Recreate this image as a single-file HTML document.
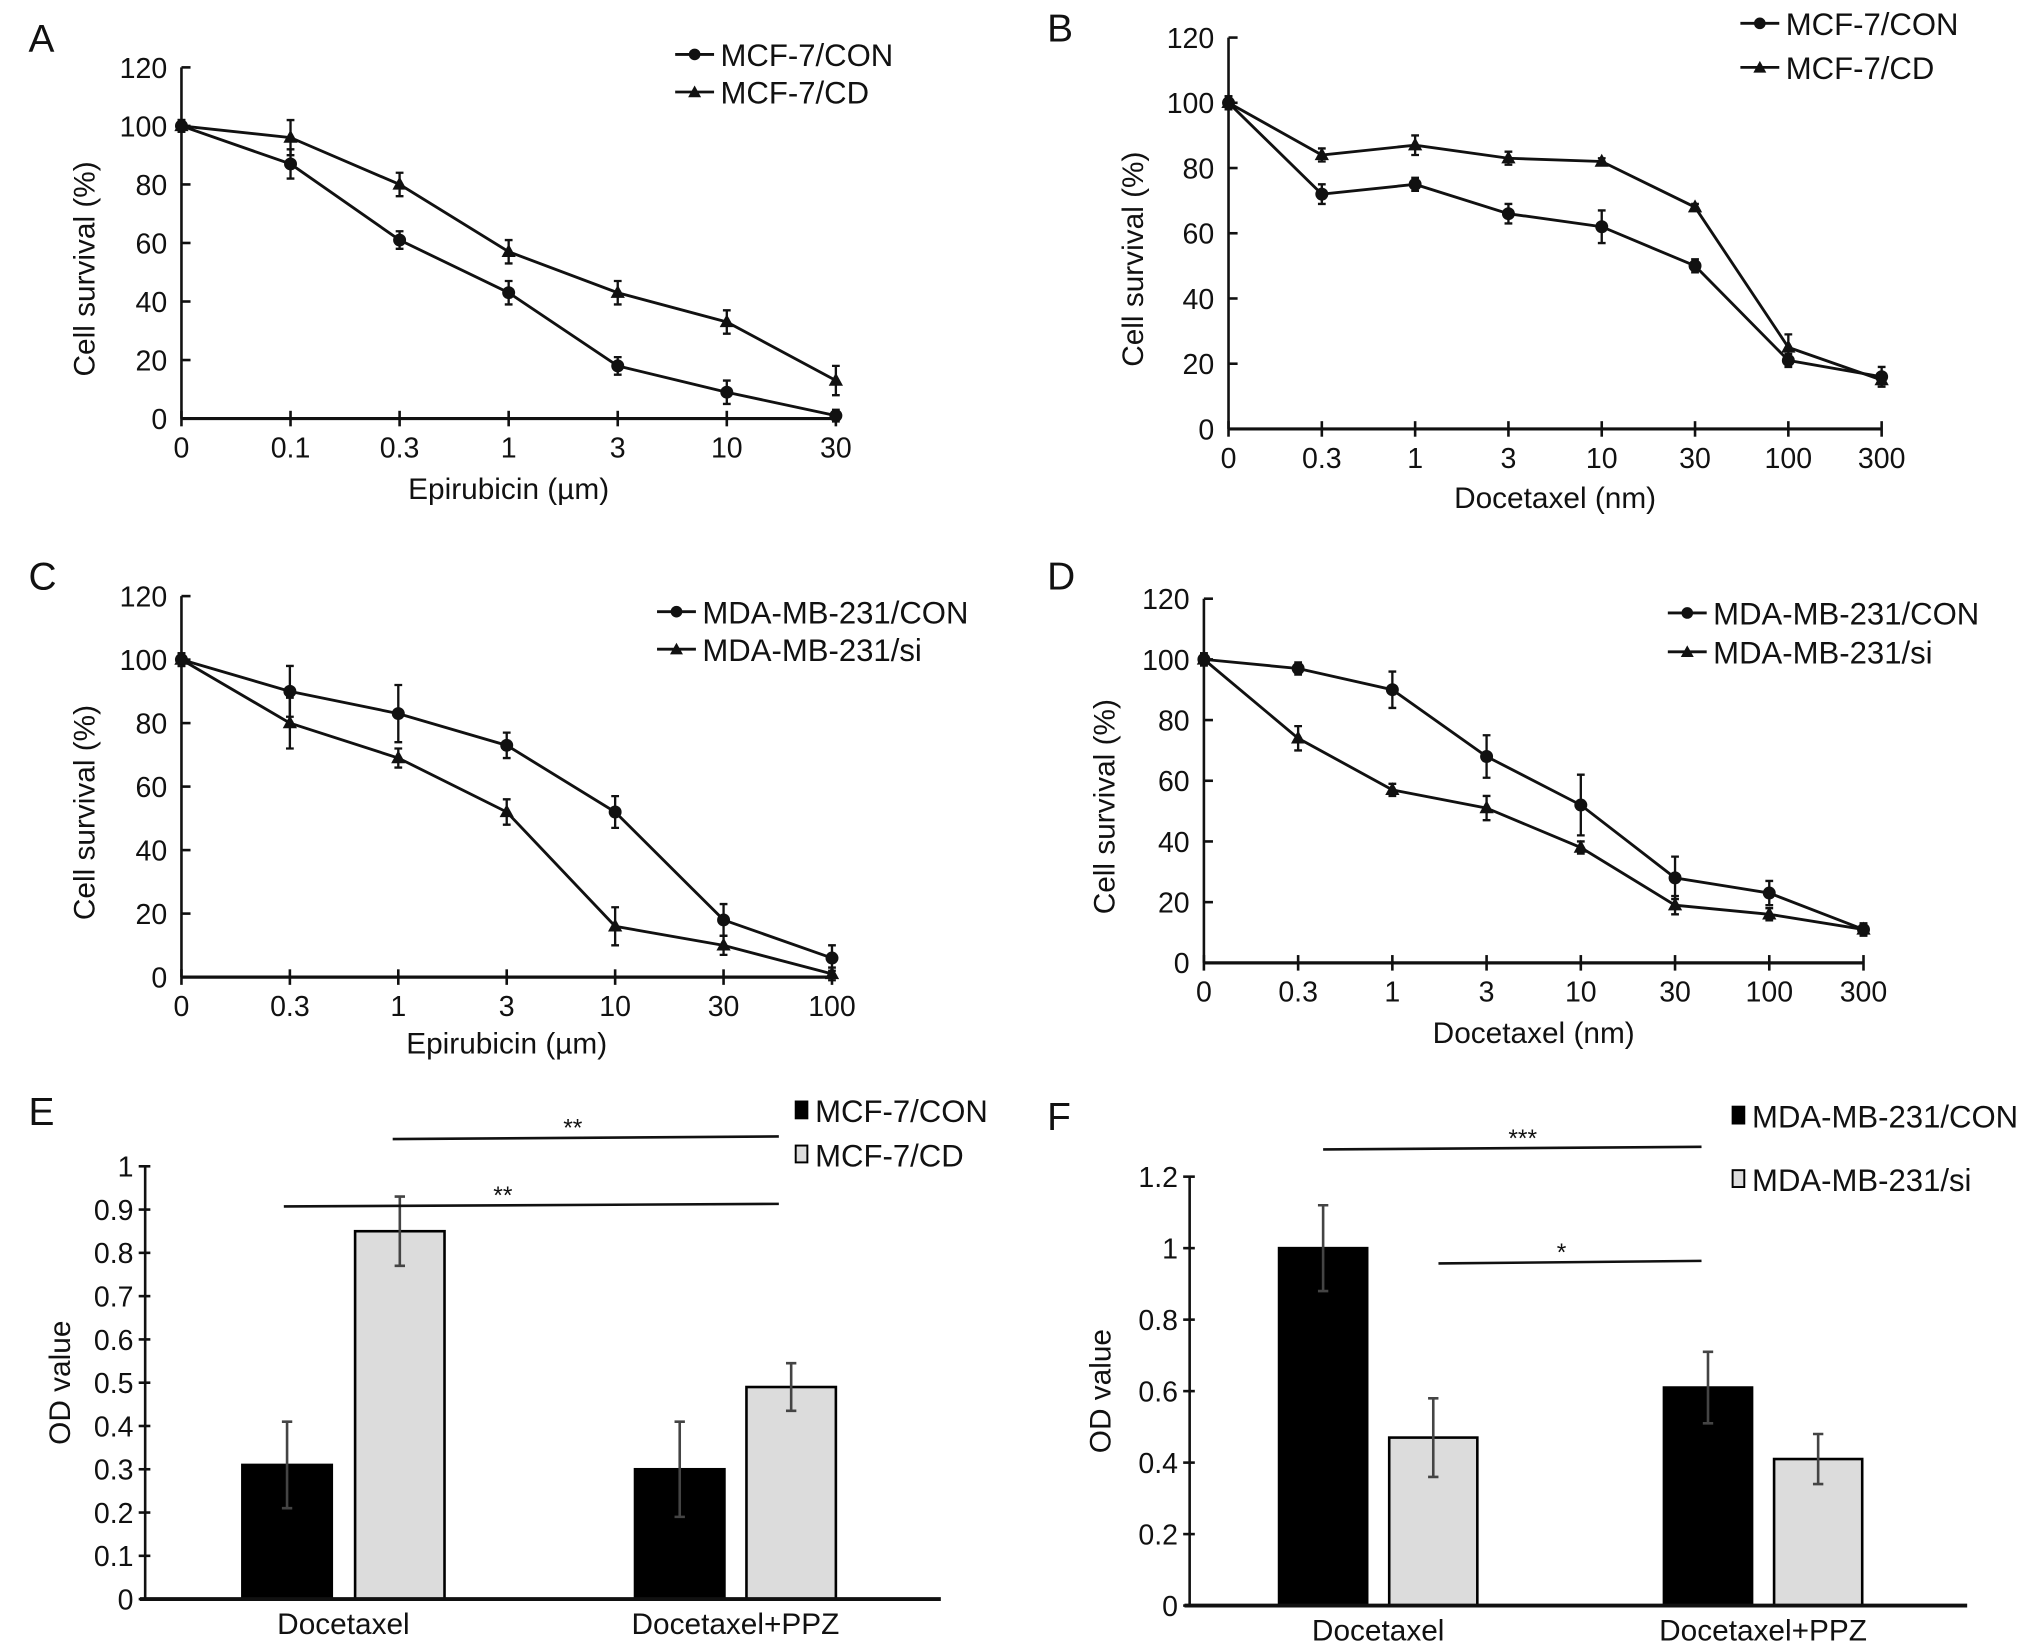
<!DOCTYPE html>
<html><head><meta charset="utf-8"><style>
html,body{margin:0;padding:0;background:#fff}
svg{display:block}
text{font-family:"Liberation Sans",Arial,sans-serif;fill:#111}
</style></head><body>
<svg id="fig" xmlns="http://www.w3.org/2000/svg" width="2032" height="1649" viewBox="0 0 1568 1272.5">
<rect width="1568" height="1272.5" fill="#fff"/>
</svg>
<script>
// Panel A data
const aCats=["0","0.1","0.3","1","3","10","30"];
const aCon=[100,87,61,43,18,9,1];
const aConErr=[2,5,3,4,3,4,2];
const aCd=[100,96,80,57,43,33,13];
const aCdErr=[2,6,4,4,4,4,5];
// Panel B data
const bCats=["0","0.3","1","3","10","30","100","300"];
const bCon=[100,72,75,66,62,50,21,16];
const bConErr=[2,3,2,3,5,2,2,3];
const bCd=[100,84,87,83,82,68,25,15];
const bCdErr=[2,2,3,2,1,1,4,2];
// Panel C data
const cCats=["0","0.3","1","3","10","30","100"];
const cCon=[100,90,83,73,52,18,6];
const cConErr=[2,8,9,4,5,5,4];
const cSi=[100,80,69,52,16,10,1];
const cSiErr=[2,8,3,4,6,3,2];
// Panel D data
const dCats=["0","0.3","1","3","10","30","100","300"];
const dCon=[100,97,90,68,52,28,23,11];
const dConErr=[2,2,6,7,10,7,4,2];
const dSi=[100,74,57,51,38,19,16,11];
const dSiErr=[2,4,2,4,2,3,2,2];
// Panel E data
const eGroups=["Docetaxel","Docetaxel+PPZ"];
const eCon=[0.31,0.30];
const eConErr=[0.10,0.11];
const eCd=[0.85,0.49];
const eCdErr=[0.08,0.055];
const eTicks=[0,0.1,0.2,0.3,0.4,0.5,0.6,0.7,0.8,0.9,1];
// Panel F data
const fGroups=["Docetaxel","Docetaxel+PPZ"];
const fCon=[1.0,0.61];
const fConErr=[0.12,0.10];
const fSi=[0.47,0.41];
const fSiErr=[0.11,0.07];
const fTicks=[0,0.2,0.4,0.6,0.8,1,1.2];
const survTicks=[0,20,40,60,80,100,120];

const svg=document.getElementById('fig');
const NS='http://www.w3.org/2000/svg';
function mk(tag,attrs,parent){const e=document.createElementNS(NS,tag);for(const k in attrs)e.setAttribute(k,attrs[k]);(parent||svg).appendChild(e);return e;}
function txt(s,x,y,size,anchor,parent,rot){const t=mk('text',{x:x,y:y,'font-size':size,'text-anchor':anchor||'middle'},parent);if(rot)t.setAttribute('transform','rotate(-90 '+x+' '+y+')');t.textContent=s;return t;}

function lineChart(id,letter,lx,ly,x0,x1,y0,yTop,cats,s1,e1,s2,e2,names,xtitle,ytx,xty,leg){
  const g=mk('g',{});
  
  
  const sx=i=>x0+(x1-x0)*i/(cats.length-1);
  const sy=v=>y0-(y0-yTop)*v/120;
  const L=txt(letter,lx,ly,30,'start',g);
  
  
  mk('line',{x1:x0,y1:y0,x2:x0,y2:yTop,stroke:'#111','stroke-width':2},g);
  mk('line',{x1:x0,y1:y0,x2:x1,y2:y0,stroke:'#111','stroke-width':2.5},g);
  survTicks.forEach(v=>{
    mk('line',{x1:x0,y1:sy(v),x2:x0+7,y2:sy(v),stroke:'#111','stroke-width':2},g);
    const t=txt(String(v),x0-11,sy(v)+8,22,'end',g);
    
    
  });
  cats.forEach((c,i)=>{
    mk('line',{x1:sx(i),y1:y0-6,x2:sx(i),y2:y0+6,stroke:'#111','stroke-width':2},g);
    const t=txt(c,sx(i),y0+30,22,'middle',g);
    
    
  });
  const xt=txt(xtitle,(x0+x1)/2,xty,23,'middle',g);
  
  
  const yt=txt('Cell survival (%)',ytx,(y0+yTop)/2+20,23,'middle',g,true);
  
  
  [[s1,e1,'circle'],[s2,e2,'tri']].forEach(([s,e,m],k)=>{
    const pts=s.map((v,i)=>sx(i)+','+sy(v)).join(' ');
    const pl=mk('polyline',{points:pts,fill:'none',stroke:'#111','stroke-width':2.2},g);
    
    
    s.forEach((v,i)=>{
      const x=sx(i),yh=sy(v+e[i]),yl=sy(v-e[i]);
      mk('path',{d:`M${x},${yh}V${yl}M${x-3},${yh}h6M${x-3},${yl}h6`,stroke:'#111','stroke-width':1.8,fill:'none'},g);
      let mkr;
      if(m==='circle') mkr=mk('circle',{cx:x,cy:sy(v),r:5,fill:'#111'},g);
      else mkr=mk('path',{d:`M${x},${sy(v)-6}L${x+5.5},${sy(v)+4}L${x-5.5},${sy(v)+4}Z`,fill:'#111'},g);
      
      
    });
  });
  leg.forEach((p,k)=>{
    const lg=mk('g',{},g);
    
    
    mk('line',{x1:p[0],y1:p[1],x2:p[0]+30,y2:p[1],stroke:'#111','stroke-width':2.2},lg);
    const cx=p[0]+15;
    if(k===0) mk('circle',{cx:cx,cy:p[1],r:4.5,fill:'#111'},lg);
    else mk('path',{d:`M${cx},${p[1]-5}L${cx+5},${p[1]+4}L${cx-5},${p[1]+4}Z`,fill:'#111'},lg);
    txt(names[k],p[0]+35,p[1]+9,24,'start',lg);
  });
}

lineChart('panel-a-chart','A',22,40,140,645,323,52,aCats,aCon,aConErr,aCd,aCdErr,['MCF-7/CON','MCF-7/CD'],'Epirubicin (\u00b5m)',73,385,[[521,42],[521,71]]);
lineChart('panel-b-chart','B',808,32,948,1452,331,29,bCats,bCon,bConErr,bCd,bCdErr,['MCF-7/CON','MCF-7/CD'],'Docetaxel (nm)',882,392,[[1343,18],[1343,52]]);
lineChart('panel-c-chart','C',22,455,140,642,754,460,cCats,cCon,cConErr,cSi,cSiErr,['MDA-MB-231/CON','MDA-MB-231/si'],'Epirubicin (\u00b5m)',73,813,[[507,472],[507,501]]);
lineChart('panel-d-chart','D',808,455,929,1438,743,462,dCats,dCon,dConErr,dSi,dSiErr,['MDA-MB-231/CON','MDA-MB-231/si'],'Docetaxel (nm)',860,805,[[1287,473],[1287,503]]);

function barChart(id,letter,lx,ly,x0,xEnd,y0,yTop,vmax,ticks,groups,s1,e1,s2,e2,barX,bw,names,ytx,leg,sig){
  const g=mk('g',{});
  
  
  const sy=v=>y0-(y0-yTop)*v/vmax;
  const L=txt(letter,lx,ly,30,'start',g);
  
  
  mk('line',{x1:x0,y1:y0,x2:x0,y2:yTop,stroke:'#111','stroke-width':2},g);
  ticks.forEach(v=>{
    mk('line',{x1:x0-5,y1:sy(v),x2:x0+4,y2:sy(v),stroke:'#111','stroke-width':2},g);
    const t=txt(String(v),x0-9,sy(v)+8,22,'end',g);
    
    
  });
  groups.forEach((gn,i)=>{
    [[s1,e1,'#000'],[s2,e2,'#dcdcdc']].forEach(([s,e,col],k)=>{
      const x=barX[i][k];
      const r=mk('rect',{x:x,y:sy(s[i]),width:bw,height:y0-sy(s[i]),fill:col,stroke:'#000','stroke-width':2},g);
      
      
      const cx=x+bw/2,yh=sy(s[i]+e[i]),yl=sy(s[i]-e[i]);
      mk('path',{d:`M${cx},${yh}V${yl}M${cx-4},${yh}h8M${cx-4},${yl}h8`,stroke:'#444','stroke-width':2,fill:'none'},g);
    });
    const t=txt(gn,(barX[i][0]+barX[i][1]+bw)/2,y0+27,23,'middle',g);
    
    
  });
  mk('line',{x1:x0-4,y1:y0,x2:xEnd,y2:y0,stroke:'#111','stroke-width':3},g);
  const yt=txt('OD value',ytx,(y0+yTop)/2,23,'middle',g,true);
  
  
  leg.forEach((p,k)=>{
    const lg=mk('g',{},g);
    
    
    mk('rect',{x:p[0],y:p[1]-7,width:9,height:13,fill:k===0?'#000':'#ddd',stroke:'#000','stroke-width':1.5},lg);
    txt(names[k],p[0]+15,p[1]+9,24,'start',lg);
  });
  sig.forEach(s=>{
    const sg=mk('g',{},g);
    
    
    mk('line',{x1:s[0],y1:s[2]+1,x2:s[1],y2:s[2]-1,stroke:'#111','stroke-width':2},sg);
    txt(s[3],s[4],s[2]-1,19,'middle',sg);
  });
}

barChart('panel-e-chart','E',22,868,112,726,1234,900,1,eTicks,eGroups,eCon,eConErr,eCd,eCdErr,[[187,274],[490,576]],69,['MCF-7/CON','MCF-7/CD'],54,[[614,857],[614,891]],[[303,601,878,'**',442],[219,601,930,'**',388]]);
barChart('panel-f-chart','F',808,872,918,1518,1239,908,1.2,fTicks,fGroups,fCon,fConErr,fSi,fSiErr,[[987,1072],[1284,1369]],68,['MDA-MB-231/CON','MDA-MB-231/si'],857,[[1337,861],[1337,910]],[[1021,1313,886,'***',1175],[1110,1313,974,'*',1205]]);
</script>
</body></html>
